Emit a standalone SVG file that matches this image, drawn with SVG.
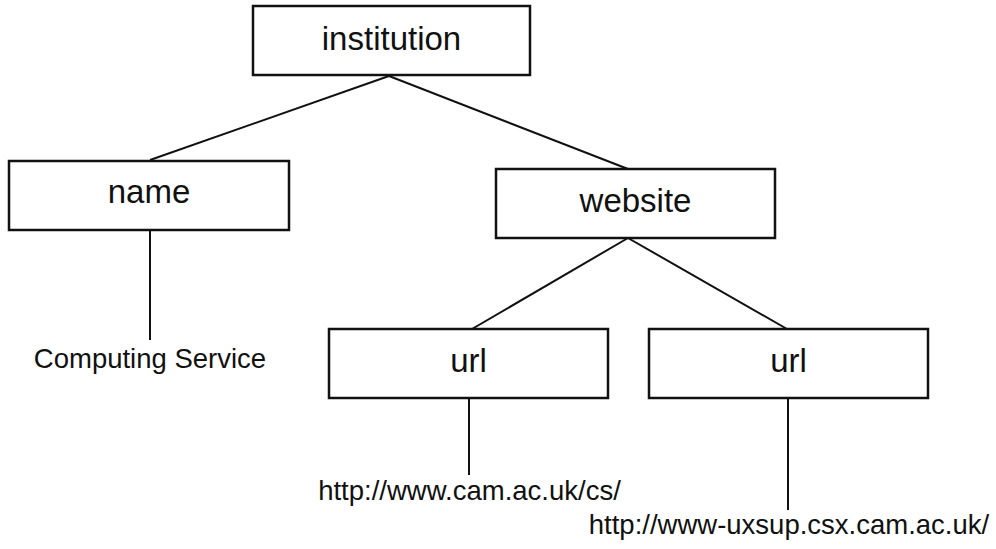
<svg xmlns="http://www.w3.org/2000/svg" width="996" height="549" viewBox="0 0 996 549">
<style>
.box{fill:#fff;stroke:#111;stroke-width:2.5}
.lbl{font-family:"Liberation Sans",Arial,sans-serif;font-size:33px;fill:#111;text-anchor:middle}
.leaf{font-family:"Liberation Sans",Arial,sans-serif;font-size:27.5px;fill:#111;text-anchor:middle}
.conn line{stroke:#111;stroke-width:2}
</style>
<rect width="996" height="549" fill="#fff"/>
<g id="connectors" class="conn">
<line x1="389" y1="76" x2="150" y2="160"/>
<line x1="389" y1="76" x2="628" y2="169"/>
<line x1="150" y1="230" x2="150" y2="340"/>
<line x1="628" y1="238" x2="472" y2="329"/>
<line x1="628" y1="238" x2="787" y2="329"/>
<line x1="469" y1="398" x2="469" y2="475"/>
<line x1="788" y1="398" x2="788" y2="510"/>
</g>
<g id="institution">
<rect class="box" x="253" y="6" width="277" height="69"/>
<text class="lbl" x="391.5" y="50">institution</text>
</g>
<g id="name">
<rect class="box" x="9" y="161" width="280" height="69"/>
<text class="lbl" x="149" y="203">name</text>
</g>
<g id="website">
<rect class="box" x="496" y="169" width="279" height="69"/>
<text class="lbl" x="635.5" y="212">website</text>
</g>
<g id="url1">
<rect class="box" x="329" y="329" width="279" height="69"/>
<text class="lbl" x="468.5" y="372">url</text>
</g>
<g id="url2">
<rect class="box" x="649" y="329" width="279" height="69"/>
<text class="lbl" x="788.5" y="372">url</text>
</g>
<g id="leaf-name">
<text class="leaf" x="150" y="368">Computing Service</text>
</g>
<g id="leaf-url1">
<text class="leaf" x="469.5" y="500">http://www.cam.ac.uk/cs/</text>
</g>
<g id="leaf-url2">
<text class="leaf" x="789" y="534">http://www-uxsup.csx.cam.ac.uk/</text>
</g>
</svg>
